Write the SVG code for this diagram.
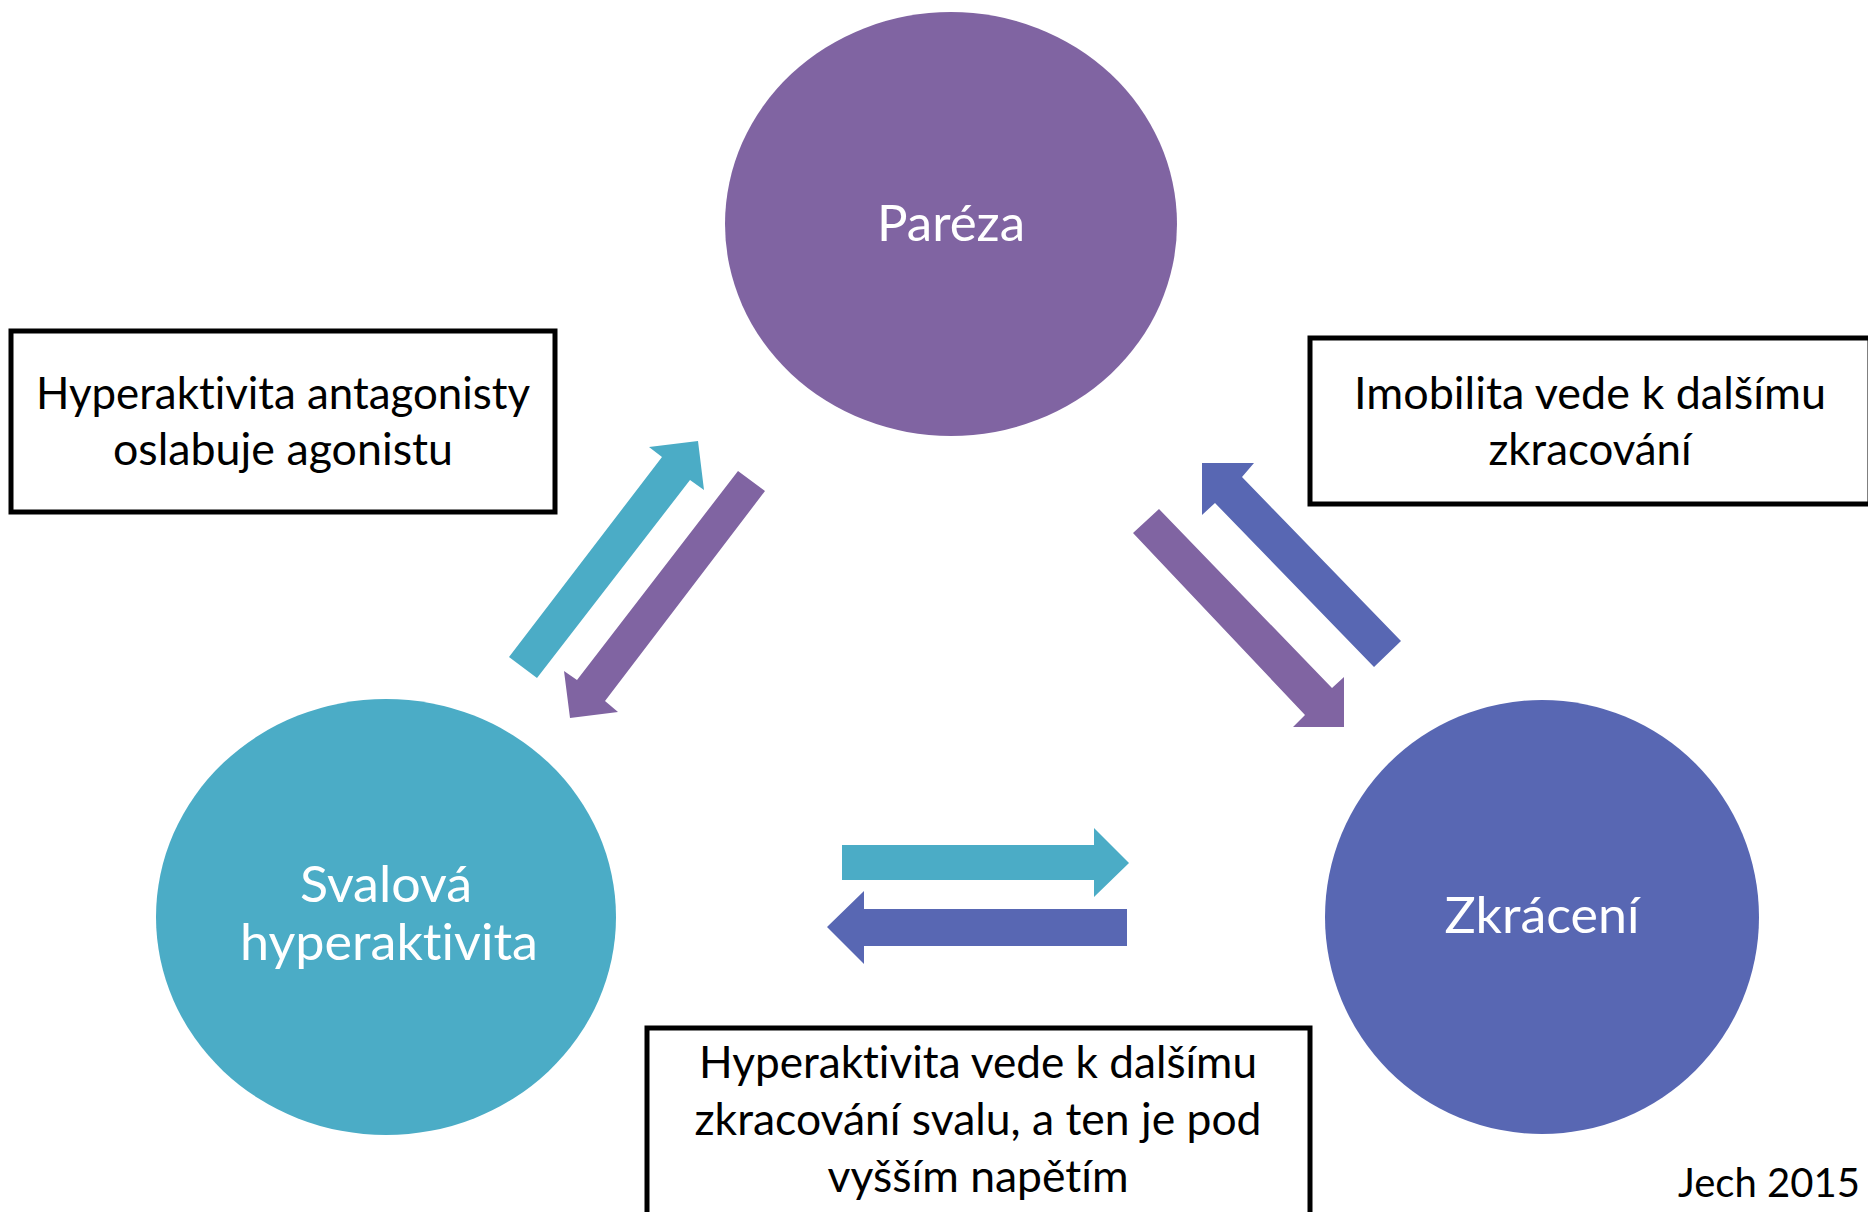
<svg xmlns="http://www.w3.org/2000/svg" width="1868" height="1212" viewBox="0 0 1868 1212">
<style>
text{font-variant-ligatures:none;font-feature-settings:"liga" 0,"clig" 0}
.node-text{font-family:Lato,"Open Sans","Liberation Sans",sans-serif;font-size:51px;fill:#ffffff;text-anchor:middle}
.box{fill:#ffffff;stroke:#000000;stroke-width:5}
.box-text{font-family:Lato,"Open Sans","Liberation Sans",sans-serif;font-size:44px;fill:#000000;text-anchor:middle}
.credit{font-family:Lato,"Open Sans","Liberation Sans",sans-serif;font-size:40px;fill:#000000;text-anchor:start}
.purple{fill:#8064A2}
.teal{fill:#4BACC6}
.blue{fill:#5867B3}
</style>
<rect width="1868" height="1212" fill="#ffffff"/>
<g id="nodes">
<g id="node-pareza">
<ellipse class="purple" cx="951" cy="224" rx="226" ry="212"/>
<text class="node-text" x="951" y="241" textLength="148" lengthAdjust="spacingAndGlyphs">Paréza</text>
</g>
<g id="node-svalova">
<ellipse class="teal" cx="386" cy="917" rx="230" ry="218"/>
<text class="node-text" x="386" y="902" textLength="172" lengthAdjust="spacingAndGlyphs">Svalová</text>
<text class="node-text" x="389" y="960" textLength="298" lengthAdjust="spacingAndGlyphs">hyperaktivita</text>
</g>
<g id="node-zkraceni">
<ellipse class="blue" cx="1542" cy="917" rx="217" ry="217"/>
<text class="node-text" x="1542" y="933" textLength="195" lengthAdjust="spacingAndGlyphs">Zkrácení</text>
</g>
<g id="box-left">
<rect class="box" x="11" y="331" width="544" height="181"/>
<text class="box-text" x="283" y="409" textLength="494" lengthAdjust="spacingAndGlyphs">Hyperaktivita antagonisty</text>
<text class="box-text" x="283" y="465" textLength="340" lengthAdjust="spacingAndGlyphs">oslabuje agonistu</text>
</g>
<g id="box-right">
<rect class="box" x="1310" y="338" width="560" height="166"/>
<text class="box-text" x="1590" y="409" textLength="472" lengthAdjust="spacingAndGlyphs">Imobilita vede k dalšímu</text>
<text class="box-text" x="1590" y="465" textLength="203" lengthAdjust="spacingAndGlyphs">zkracování</text>
</g>
<g id="box-bottom">
<rect class="box" x="647" y="1028" width="663" height="200"/>
<text class="box-text" x="978" y="1078" textLength="558" lengthAdjust="spacingAndGlyphs">Hyperaktivita vede k dalšímu</text>
<text class="box-text" x="978" y="1135" textLength="567" lengthAdjust="spacingAndGlyphs">zkracování svalu, a ten je pod</text>
<text class="box-text" x="978" y="1192" textLength="301" lengthAdjust="spacingAndGlyphs">vyšším napětím</text>
</g>
<g id="credit">
<text class="credit" x="1678" y="1197" textLength="182" lengthAdjust="spacingAndGlyphs">Jech 2015</text>
</g>
</g>
<g id="connectors">
<polygon class="teal" points="509,657 662,457 649,447 698,441 704,490 690,480 537,678"/>
<polygon class="purple" points="738,471 765,491 605,701 618,712 570,718 564,671 577,680"/>
<polygon class="blue" points="1202,463 1254,463 1242,477 1401,641 1374,667 1215,503 1202,515"/>
<polygon class="purple" points="1159,509 1332,688 1344,677 1344,727 1293,727 1305,715 1133,533"/>
<polygon class="teal" points="842,845 1094,845 1094,828 1129,863 1094,897 1094,880 842,880"/>
<polygon class="blue" points="1127,909 864,909 864,891 827,927 864,964 864,946 1127,946"/>
</g>
</svg>
